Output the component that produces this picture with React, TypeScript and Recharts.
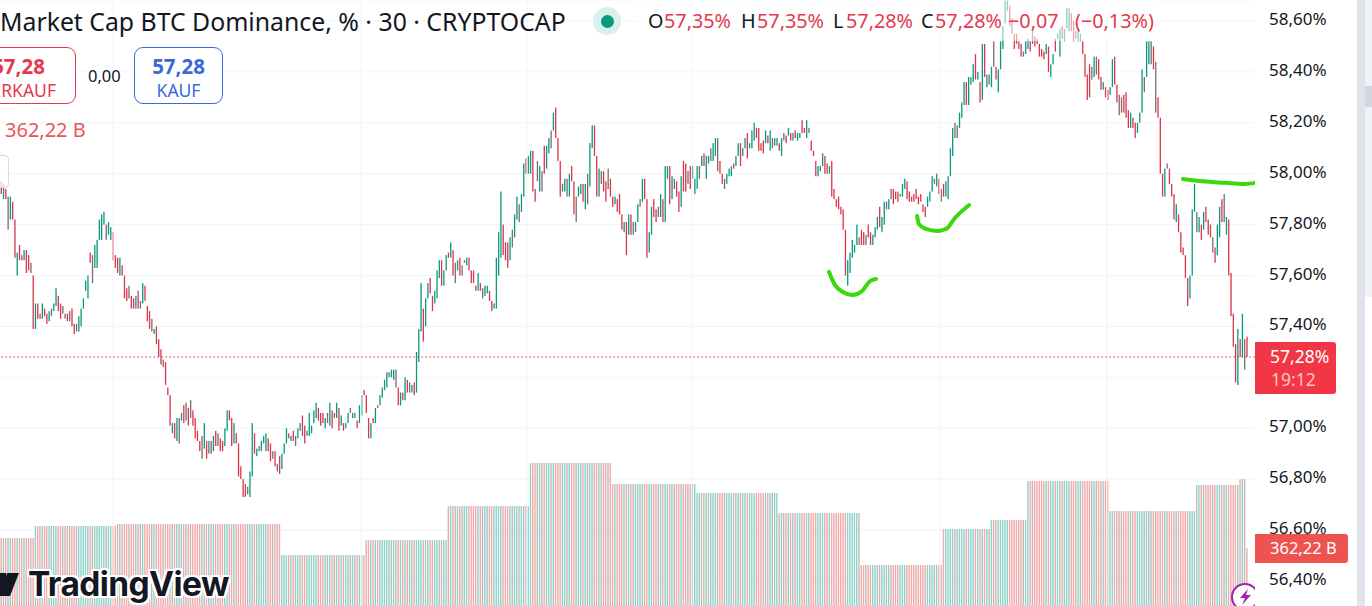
import React from 'react';
import { ComposedChart, Bar, Line, XAxis, YAxis, CartesianGrid, ReferenceLine } from 'recharts';

const FONT = '"Noto Sans", sans-serif';
const TEAL = '#089981';
const RED = '#dc3449';
const GREEN_INK = '#39d90c';
const CANDLE_COLORS: Record<string, string> = { u: TEAL, d: RED, g: '#7d6b6b' };
const VOLUME_COLORS: Record<string, string> = { u: '#8ed2ca', d: '#f2aaaa', g: '#c2b9b6' };

const priceTicks = [56.4, 56.6, 56.8, 57, 57.2, 57.4, 57.6, 57.8, 58, 58.2, 58.4, 58.6];
const lastPrice = 57.28;
const dayBars = [50, 158.7, 231.4, 303.7, 412.4, 485.6];

// 30 minute bars
const highs = [
  57.99,57.97,57.96,57.94,57.91,57.91,57.89,57.82,57.69,57.72,57.68,57.70,57.70,57.68,57.65,57.60,57.49,57.49,57.45,57.49,
  57.47,57.45,57.46,57.47,57.49,57.55,57.52,57.49,57.48,57.45,57.45,57.46,57.47,57.41,57.41,57.44,57.47,57.51,57.58,57.60,57.69,
  57.68,57.72,57.74,57.82,57.84,57.85,57.80,57.81,57.79,57.77,57.68,57.67,57.67,57.64,57.60,57.55,57.56,57.52,57.51,57.52,57.54,57.50,
  57.57,57.56,57.48,57.46,57.43,57.39,57.40,57.35,57.31,57.27,57.26,57.16,57.13,57.02,57.02,57.04,57.04,57.06,57.09,
  57.10,57.08,57.11,57.07,57.04,56.99,56.95,56.97,57.02,56.95,56.95,56.95,56.97,56.99,56.98,56.96,
  56.95,57.00,57.07,57.07,57.04,57.02,56.98,56.94,56.85,56.80,56.78,56.77,56.83,57.02,56.98,56.92,56.93,56.95,56.97,
  56.98,56.96,56.94,56.91,56.91,56.86,56.89,56.90,56.94,57.00,56.98,56.97,56.99,56.97,57.00,57.02,57.05,57.01,56.99,
  57.06,57.01,57.07,57.10,57.08,57.06,57.06,57.04,57.06,57.10,57.07,57.06,57.10,57.08,57.05,57.02,57.02,57.06,57.08,
  57.06,57.06,57.03,57.09,57.13,57.15,57.13,57.04,57.02,57.04,57.08,57.09,57.13,57.16,57.19,57.22,57.22,57.23,57.23,57.23,
  57.16,57.14,57.14,57.20,57.19,57.18,57.17,57.18,57.30,57.39,57.57,57.47,57.51,57.57,57.59,57.52,57.54,57.62,57.66,57.66,
  57.62,57.68,57.69,57.73,57.70,57.65,57.66,57.67,57.64,57.66,57.67,57.67,57.62,57.62,57.56,57.61,57.57,57.55,57.56,
  57.56,57.54,57.50,57.49,57.67,57.77,57.93,57.80,57.73,57.73,57.75,57.78,57.84,57.91,57.88,57.92,58.04,58.06,58.07,58.09,
  58.09,57.94,58.05,58.03,58.01,58.11,58.11,58.14,58.17,58.24,58.26,58.14,58.05,57.96,57.98,57.98,58.00,58.03,
  57.97,57.91,57.95,57.96,57.96,57.96,58.00,58.12,58.19,58.19,58.07,58.02,58.01,58.01,57.97,58.02,57.98,57.91,57.91,
  57.90,57.92,57.84,57.81,57.81,57.84,57.84,57.81,57.81,57.88,57.90,57.98,57.98,57.90,57.77,57.87,57.90,57.86,
  57.87,57.92,57.90,58.03,58.03,58.03,57.99,57.98,57.97,57.93,57.99,58.05,58.04,58.01,58.03,58.03,57.98,58.03,58.03,
  58.07,58.08,58.07,58.07,58.10,58.12,58.14,58.14,58.05,58.00,57.98,58.00,58.02,58.03,58.04,58.07,58.12,58.12,58.10,
  58.14,58.16,58.12,58.17,58.20,58.18,58.18,58.12,58.13,58.17,58.15,58.17,58.14,58.14,58.14,58.12,58.14,58.16,58.15,
  58.18,58.16,58.16,58.17,58.16,58.16,58.21,58.18,58.21,58.18,58.13,58.09,58.05,58.03,58.03,58.08,58.07,58.04,58.03,58.05,
  57.94,57.90,57.91,57.87,57.86,57.78,57.66,57.69,57.74,57.72,57.80,57.75,57.78,57.77,57.76,57.80,57.77,57.76,57.79,57.83,
  57.87,57.83,57.89,57.89,57.90,57.94,57.94,57.93,57.93,57.92,57.96,57.98,57.97,57.93,57.91,57.92,57.94,57.91,57.92,57.88,57.87,
  57.91,57.93,57.99,57.98,58.00,57.98,57.94,57.96,57.97,57.99,58.10,58.18,58.20,58.19,58.24,58.28,58.36,58.36,58.38,58.38,58.43,
  58.47,58.40,58.36,58.51,58.51,58.39,58.39,58.42,58.52,58.42,58.41,58.52,58.58,58.68,58.68,58.66,58.61,58.55,58.55,58.52,
  58.51,58.48,58.52,58.53,58.52,58.57,58.54,58.53,58.51,58.49,58.48,58.51,58.50,58.43,58.47,58.53,58.55,58.57,58.58,58.57,58.65,
  58.65,58.63,58.60,58.56,58.57,58.55,58.52,58.47,58.39,58.43,58.42,58.46,58.46,58.45,58.38,58.36,58.34,58.33,58.34,58.45,58.46,
  58.35,58.31,58.30,58.31,58.32,58.25,58.24,58.22,58.20,58.20,58.24,58.41,58.38,58.52,58.52,58.52,58.50,58.44,58.30,58.22,
  58.00,58.02,58.04,58.02,57.96,57.92,57.88,57.84,57.77,57.71,57.68,57.59,57.60,57.86,57.96,57.85,57.83,57.80,57.85,57.87,
  57.82,57.80,57.75,57.71,57.80,57.87,57.90,57.92,57.83,57.82,57.61,57.45,57.33,57.39,57.35,57.45,57.35,57.36,
];

const lows = [
  57.93,57.92,57.90,57.90,57.78,57.82,57.82,57.67,57.60,57.66,57.66,57.66,57.61,57.62,57.61,57.39,57.39,57.43,57.43,57.43,
  57.44,57.41,57.42,57.44,57.46,57.48,57.46,57.43,57.45,57.43,57.42,57.42,57.40,57.37,57.38,57.38,57.40,57.47,57.54,57.51,57.65,
  57.57,57.63,57.63,57.74,57.74,57.80,57.74,57.76,57.74,57.66,57.63,57.61,57.60,57.60,57.51,57.50,57.51,57.47,57.47,57.47,57.47,57.47,
  57.49,57.50,57.42,57.39,57.38,57.37,57.33,57.28,57.25,57.24,57.17,57.13,57.01,56.98,56.96,56.95,56.94,57.03,57.02,
  57.03,57.01,57.04,57.01,56.96,56.95,56.91,56.88,56.92,56.88,56.90,56.90,56.91,56.93,56.93,56.91,
  56.91,56.93,56.99,57.03,56.93,56.94,56.94,56.81,56.80,56.73,56.73,56.74,56.73,56.81,56.90,56.89,56.91,56.91,56.94,
  56.91,56.91,56.87,56.88,56.85,56.83,56.82,56.84,56.90,56.94,56.96,56.95,56.95,56.93,56.96,56.99,56.97,56.94,56.97,
  56.97,56.98,57.02,57.04,57.03,57.01,57.02,57.00,57.02,57.01,57.00,57.04,57.04,56.99,57.01,56.99,57.00,57.02,57.06,
  57.04,57.04,57.00,57.02,57.05,57.13,57.06,56.96,56.96,57.02,57.02,57.08,57.09,57.12,57.15,57.16,57.20,57.20,57.19,57.16,
  57.09,57.09,57.11,57.11,57.14,57.14,57.14,57.13,57.14,57.26,57.38,57.34,57.40,57.51,57.53,57.46,57.49,57.51,57.59,57.56,
  57.56,57.62,57.67,57.67,57.60,57.57,57.62,57.60,57.60,57.65,57.64,57.62,57.57,57.57,57.54,57.54,57.54,57.51,57.52,
  57.53,57.50,57.46,57.47,57.47,57.60,57.67,57.68,57.66,57.63,57.66,57.71,57.75,57.82,57.81,57.85,57.91,58.00,58.00,58.00,
  57.93,57.89,57.97,57.93,57.93,58.00,58.02,58.08,58.10,58.17,58.14,58.05,57.91,57.93,57.93,57.91,57.91,57.97,
  57.84,57.81,57.91,57.92,57.89,57.86,57.88,57.95,58.10,58.07,57.91,57.91,57.96,57.93,57.89,57.94,57.91,57.87,57.88,
  57.85,57.84,57.78,57.77,57.68,57.76,57.76,57.76,57.77,57.81,57.87,57.89,57.90,57.67,57.69,57.76,57.83,57.81,
  57.83,57.83,57.81,57.81,57.98,57.88,57.90,57.94,57.91,57.85,57.87,57.93,57.93,57.96,57.94,57.98,57.92,57.94,57.98,
  58.03,58.03,57.98,58.04,58.05,58.05,58.07,58.01,58.00,57.96,57.94,57.96,57.99,57.99,58.02,58.03,58.07,58.03,58.07,
  58.10,58.06,58.10,58.10,58.13,58.14,58.09,58.09,58.08,58.12,58.12,58.09,58.10,58.11,58.11,58.09,58.07,58.13,58.12,
  58.15,58.13,58.13,58.14,58.13,58.14,58.16,58.16,58.14,58.16,58.09,58.07,57.99,57.99,58.01,58.03,58.00,58.00,58.00,57.91,
  57.90,57.87,57.86,57.84,57.78,57.60,57.56,57.61,57.67,57.69,57.72,57.72,57.72,57.72,57.72,57.75,57.72,57.72,57.75,57.78,
  57.79,57.77,57.80,57.86,57.86,57.90,57.88,57.90,57.89,57.91,57.91,57.94,57.90,57.89,57.89,57.89,57.90,57.88,57.89,57.85,57.83,
  57.87,57.89,57.93,57.96,57.95,57.92,57.89,57.91,57.91,57.90,57.99,58.07,58.14,58.14,58.18,58.22,58.27,58.27,58.27,58.35,58.36,
  58.37,58.37,58.28,58.29,58.38,58.34,58.35,58.34,58.42,58.37,58.32,58.41,58.49,58.59,58.64,58.58,58.55,58.49,58.51,58.49,
  58.46,58.46,58.47,58.49,58.48,58.51,58.50,58.51,58.46,58.46,58.45,58.47,58.40,58.38,58.43,58.48,58.53,58.46,58.53,58.52,58.57,
  58.56,58.56,58.52,58.53,58.52,58.52,58.47,58.38,58.29,58.30,58.37,58.38,58.39,58.37,58.33,58.33,58.30,58.29,58.31,58.34,58.35,
  58.28,58.23,58.24,58.24,58.22,58.18,58.18,58.18,58.14,58.16,58.20,58.24,58.32,58.38,58.43,58.43,58.41,58.24,58.22,58.00,
  57.91,57.91,58.02,57.96,57.91,57.82,57.81,57.77,57.69,57.68,57.59,57.48,57.51,57.60,57.85,57.77,57.77,57.74,57.78,57.81,
  57.76,57.75,57.69,57.65,57.68,57.75,57.81,57.81,57.76,57.60,57.44,57.32,57.18,57.17,57.28,57.28,57.23,57.28,
];

// u = up bar, d = down bar, g = body and wick overlapping to a grey brown
const tones = [
  'ddudguddudduddgduddu',
  'dduguuddggdgddguuuuud',
  'guuuuuguudddudddgddudg',
  'udddgudddgdddudugud',
  'gdgddddgudududgd',
  'duuddudddddguuduguu',
  'uddgdgduuududguuddu',
  'uuuudddugudgududuug',
  'ugduudddududuuuuguug',
  'dududguduuuduudduuud',
  'uududgudguuddddudgu',
  'udduuuuddduguuguuduu',
  'ddgugduuguddduugud',
  'dguuduguuddugddgddu',
  'dddududguugudduudd',
  'guduudugdduddgduuug',
  'uduuguugddguuuduudu',
  'uduuudddduduguudugd',
  'ududuuddugddduuuddud',
  'dddddduuuuugddgdduuu',
  'duugugddduuuddddddddd',
  'uuugudgduuuugguuuduuu',
  'dududugugduuuuuddddd',
  'dguudgddddduduuduuduu',
  'uddduuddddgugddudduud',
  'dggdddudduuuguugdgdd',
  'dugddduddddduuugudud',
  'ddgduudguddddudugd',
].join('').split('');

// volume is a daily figure, so it stays flat across each day's bars
const volumeLevels = [416, 481, 492, 324, 405, 589, 822, 708, 660, 551, 270, 465, 514, 724, 562, 703, 735, 362.22];
const volumeCounts = [16, 36, 72, 37, 36, 36, 36, 37, 36, 36, 36, 21, 16, 36, 38, 19, 3, 1];
const volumes = volumeLevels.flatMap((v, i) => new Array(volumeCounts[i]).fill(v));

const bars = highs.map((high, i) => ({
  i,
  range: [lows[i], high],
  high,
  low: lows[i],
  tone: tones[i] || 'd',
  volume: volumes[i],
}));

// hand drawn green strokes
const strokeOne = [
  { i: 363.8, p: 57.614 }, { i: 366.4, p: 57.563 }, { i: 369.9, p: 57.535 }, { i: 373.9, p: 57.523 },
  { i: 378.3, p: 57.539 }, { i: 381.8, p: 57.578 }, { i: 384.4, p: 57.586 },
];
const strokeTwo = [
  { i: 402.4, p: 57.834 }, { i: 403.2, p: 57.802 }, { i: 406.3, p: 57.783 }, { i: 411.1, p: 57.775 },
  { i: 415.1, p: 57.783 }, { i: 419, p: 57.826 }, { i: 425.2, p: 57.877 },
];
const strokeThree = [
  { i: 518.9, p: 57.979 }, { i: 526.4, p: 57.971 }, { i: 537.4, p: 57.964 }, { i: 546.1, p: 57.96 }, { i: 550.4, p: 57.964 },
];

// the 57,20% label sits under the live price tag in the reference
const fmtPrice = (v: number) => (v === 57.2 ? '' : v.toFixed(2).replace('.', ',') + '%');

function CandleShape(props: any) {
  const { x, y, width, height, payload } = props;
  return <rect x={x + width / 2 - 0.65} y={y} width={1.3} height={Math.max(height, 1)} fill={CANDLE_COLORS[payload.tone]} />;
}

function VolumeShape(props: any) {
  const { x, y, width, height, payload } = props;
  return <rect x={x + width / 2 - 0.7} y={y} width={1.4} height={height} fill={VOLUME_COLORS[payload.tone]} />;
}

function Txt({ x, y, size, color, weight, children }: any) {
  return (
    <div style={{
      position: 'absolute', top: y, left: x, fontSize: size, color, fontWeight: weight || 400,
      lineHeight: 1, whiteSpace: 'nowrap', transform: 'translateY(-50%)',
    }}>{children}</div>
  );
}

export default function App() {
  return (
    <div style={{ position: 'absolute', left: 0, top: 0, width: 1372, height: 606, overflow: 'hidden', background: '#fff', fontFamily: FONT }}>
      <ComposedChart width={1372} height={606} data={bars} margin={{ top: 0, right: 0, bottom: 0, left: 0 }} barGap={0}>
        <CartesianGrid yAxisId="price" xAxisId="time" vertical={false} stroke="#f0f3fa" />
        <XAxis xAxisId="time" dataKey="i" type="number" domain={[0.44, 550.5]} hide allowDataOverflow />
        <XAxis xAxisId="vol" dataKey="i" type="number" domain={[0.44, 550.5]} hide allowDataOverflow />
        <YAxis
          yAxisId="price"
          orientation="right"
          width={117}
          domain={[56.3014, 58.6825]}
          ticks={priceTicks}
          interval={0}
          allowDataOverflow
          axisLine={false}
          tickLine={false}
          tickSize={0}
          tickMargin={14}
          tickFormatter={fmtPrice}
          tick={{ fontSize: 17, fill: '#131722', fontFamily: FONT, dy: -2 }}
        />
        <YAxis yAxisId="volume" hide domain={[48.7, 3325]} allowDataOverflow />
        {dayBars.map((d) => (
          <ReferenceLine key={d} xAxisId="time" yAxisId="price" x={d} stroke="#f0f3fa" />
        ))}
        <Bar xAxisId="vol" yAxisId="volume" dataKey="volume" barSize={2} shape={VolumeShape} isAnimationActive={false} />
        <ReferenceLine xAxisId="time" yAxisId="price" y={lastPrice} stroke="#d6283c" strokeDasharray="1.5 2.5" />
        <Bar xAxisId="time" yAxisId="price" dataKey="range" barSize={2} shape={CandleShape} isAnimationActive={false} />
        {[strokeOne, strokeTwo, strokeThree].map((s, n) => (
          <Line
            key={n}
            xAxisId="time"
            yAxisId="price"
            data={s}
            dataKey="p"
            type="monotone"
            stroke={GREEN_INK}
            strokeWidth={4}
            strokeLinecap="round"
            dot={false}
            activeDot={false}
            isAnimationActive={false}
          />
        ))}
      </ComposedChart>

      {/* legend veil over the candles behind the OHLC text */}
      <div style={{ position: 'absolute', left: 636, top: 0, width: 522, height: 41, background: 'rgba(255,255,255,0.55)' }} />

      <Txt x={0} y={21} size={24.8} color="#131722">Market Cap BTC Dominance, % · 30 · CRYPTOCAP</Txt>
      <div style={{ position: 'absolute', left: 593, top: 7, width: 28, height: 28, borderRadius: 14, background: '#d9f0ec' }} />
      <div style={{ position: 'absolute', left: 600.5, top: 14.5, width: 13, height: 13, borderRadius: 7, background: TEAL }} />
      <Txt x={648} y={21} size={19.8} color="#131722">O</Txt>
      <Txt x={664} y={21} size={19.8} color="#e5394c">57,35%</Txt>
      <Txt x={741} y={21} size={19.8} color="#131722">H</Txt>
      <Txt x={757} y={21} size={19.8} color="#e5394c">57,35%</Txt>
      <Txt x={833} y={21} size={19.8} color="#131722">L</Txt>
      <Txt x={846} y={21} size={19.8} color="#e5394c">57,28%</Txt>
      <Txt x={921} y={21} size={19.8} color="#131722">C</Txt>
      <Txt x={935} y={21} size={19.8} color="#e5394c">57,28%</Txt>
      <Txt x={1008} y={21} size={19.8} color="#e5394c">−0,07</Txt>
      <Txt x={1075} y={21} size={19.8} color="#e5394c">(−0,13%)</Txt>

      <div style={{ position: 'absolute', left: -39, top: 47, width: 113, height: 55, border: '1px solid #e5394c', borderRadius: 9, background: '#fff', color: '#e5394c', textAlign: 'center' }}>
        <div style={{ fontSize: 20.5, fontWeight: 700, lineHeight: '20px', marginTop: 8 }}>57,28</div>
        <div style={{ fontSize: 17.5, lineHeight: '18px', marginTop: 5 }}>VERKAUF</div>
      </div>
      <Txt x={88} y={76} size={16.5} color="#131722">0,00</Txt>
      <div style={{ position: 'absolute', left: 134, top: 47, width: 87, height: 55, border: '1px solid #3a69d8', borderRadius: 9, background: '#fff', color: '#3a69d8', textAlign: 'center' }}>
        <div style={{ fontSize: 20.5, fontWeight: 700, lineHeight: '20px', marginTop: 8 }}>57,28</div>
        <div style={{ fontSize: 17.5, lineHeight: '18px', marginTop: 5 }}>KAUF</div>
      </div>
      <Txt x={5} y={130} size={20} color="#e8575a">362,22 B</Txt>
      <div style={{ position: 'absolute', left: -20, top: 155, width: 27, height: 31, border: '1px solid #d8d8d8', borderRadius: 4, background: 'rgba(255,255,255,0.7)' }} />

      {/* watermark */}
      <svg style={{ position: 'absolute', left: 0, top: 566 }} width={28} height={36}>
        <polygon points="0,7 6,7 6,30 0,30" fill="#131722" />
        <polygon points="7,7 19,7 10,30 0,30" fill="#131722" />
      </svg>
      <div style={{
        position: 'absolute', left: 28, top: 564, fontFamily: 'Inter, sans-serif', fontWeight: 700, fontSize: 33.5, lineHeight: '40px', letterSpacing: -0.6,
        color: '#131722', textShadow: '2px 0 0 #fff,-2px 0 0 #fff,0 2px 0 #fff,0 -2px 0 #fff,2px 2px 0 #fff,-2px -2px 0 #fff,2px -2px 0 #fff,-2px 2px 0 #fff',
      }}>TradingView</div>

      {/* bolt badge */}
      <svg style={{ position: 'absolute', left: 1225, top: 576 }} width={30} height={30}>
        <circle cx={20} cy={21} r={13} fill="#fff" stroke="#9c27b0" strokeWidth={2} />
        <polygon points="23,13 15,22 20,22 17,29 26,19 21,19" fill="#9c27b0" />
      </svg>

      {/* price tags */}
      <div style={{ position: 'absolute', left: 1255, top: 342, width: 81, height: 52, background: '#f23645', borderRadius: '0 3px 3px 0' }}>
        <div style={{ position: 'absolute', left: 15, top: 4, fontSize: 17.5, lineHeight: '20px', color: '#fff' }}>57,28%</div>
        <div style={{ position: 'absolute', left: 16, top: 27, fontSize: 17.5, lineHeight: '20px', color: '#ffc4ca' }}>19:12</div>
      </div>
      <div style={{ position: 'absolute', left: 1255, top: 534, width: 93, height: 29, background: '#ef5350', borderRadius: '0 3px 3px 0', color: '#fff', fontSize: 16.5, lineHeight: '28px', paddingLeft: 15, boxSizing: 'border-box' }}>362,22 B</div>

      {/* window edge */}
      <div style={{ position: 'absolute', left: 1357, top: 0, width: 8, height: 606, background: '#e0e3eb' }} />
      <div style={{ position: 'absolute', left: 1365, top: 0, width: 7, height: 297, background: '#f1f2f6' }} />
      <div style={{ position: 'absolute', left: 1365, top: 86, width: 7, height: 21, background: '#d3d6df' }} />
      <div style={{ position: 'absolute', left: 1365, top: 297, width: 7, height: 309, background: '#fff' }} />
    </div>
  );
}
